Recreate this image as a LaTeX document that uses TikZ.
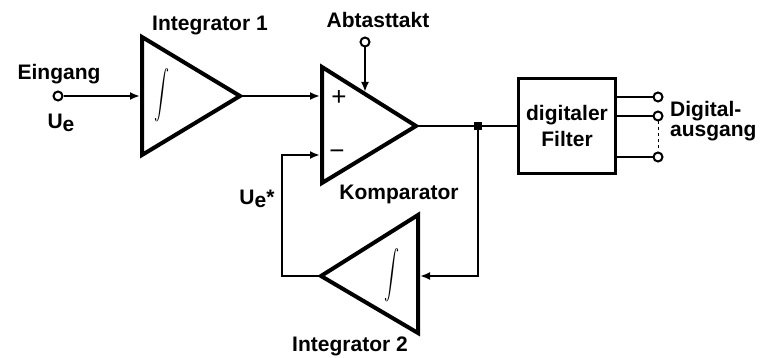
\documentclass[tikz,border=0pt]{standalone}
\usepackage{fontspec}
\setmainfont{Liberation Sans}
\usetikzlibrary{arrows.meta,calc,positioning}

\tikzset{
	amp/.style={line width=4pt, line join=miter},
	wire/.style={line width=2pt},
	port/.style={circle, draw, line width=2pt, inner sep=0pt, minimum size=9pt, fill=white},
	lbl/.style={font=\fontsize{21}{26}\selectfont\bfseries, inner sep=0pt, anchor=base},
	sign/.style={font=\fontsize{26}{26}\selectfont, inner sep=0pt},
	intsym/.style={inner sep=0pt, xscale=1.5, yscale=2.4},
}

\begin{document}
\begin{tikzpicture}[x=1pt,y=-1pt,>={Latex[length=10pt,width=8pt]}]
	\useasboundingbox (0,0) rectangle (763,358);

	% Integrator 1
	\coordinate (i1t) at (142,37);
	\coordinate (i1b) at (142,155);
	\coordinate (i1o) at (240,96);
	\coordinate (i1in) at (140,96);
	\draw[amp] (i1t) -- (i1o) -- (i1b) -- cycle;
	\node[intsym] (i1int) at (162,95) {$\displaystyle\int$};
	\node[lbl] (i1lbl) at (210,31) {Integrator 1};

	% Eingang
	\node[port] (ein) at (58,96) {};
	\node[lbl] (einlbl) at (59,80) {Eingang};
	\node[lbl] (ue) at (61,129) {U\raisebox{-3pt}{e}};
	\draw[wire,->] (ein) -- (i1in);

	% Komparator
	\coordinate (kt) at (322,67);
	\coordinate (kb) at (322,183);
	\coordinate (ko) at (416,126);
	\coordinate (kplus) at (320,96);
	\coordinate (kminus) at (320,155);
	\draw[amp] (kt) -- (ko) -- (kb) -- cycle;
	\node[sign] (plus) at (339,98) {+};
	\node[sign] (minus) at (337,155) {\char"2212};
	\node[lbl] (klbl) at (399,200) {Komparator};
	\draw[wire,->] (i1o) -- (kplus);

	% Abtasttakt
	\node[port] (abt) at (365,42) {};
	\node[lbl] (abtlbl) at (378,28) {Abtasttakt};
	\coordinate (clk) at ($(kt)!0.457!(ko)$);
	\draw[wire,->] (abt) -- ($(abt |- clk)+(0,-2)$);

	% Filter
	\node[fill, inner sep=0pt, minimum size=8pt] (jn) at (478,126) {};
	\node[draw, line width=3pt, minimum width=97pt, minimum height=95pt, align=center,
		font=\fontsize{21}{26}\selectfont\bfseries, inner sep=0pt] (filt) at (567,126) {digitaler\\Filter};
	\draw[wire] (ko) -- (jn);
	\draw[wire] (jn) -- (filt);

	\foreach \n/\y in {1/97,2/116,3/157}{
		\node[port] (out\n) at (658,\y) {};
		\draw[wire] (filt.east |- out\n) -- (out\n);
	}
	\draw[dashed, line width=1pt] (out2) -- (out3);
	\node[lbl, anchor=base west] (da1) at (670,117) {Digital-};
	\node[lbl, anchor=base west] (da2) at (670,137) {ausgang};

	% Integrator 2
	\coordinate (i2t) at (418,215);
	\coordinate (i2b) at (418,333);
	\coordinate (i2o) at (321,276);
	\coordinate (i2in) at (420,276);
	\coordinate (fb) at (478,276);
	\coordinate (fbl) at (282,276);
	\draw[amp] (i2t) -- (i2o) -- (i2b) -- cycle;
	\node[intsym] (i2int) at (392,275) {$\displaystyle\int$};
	\node[lbl] (i2lbl) at (350,351) {Integrator 2};
	\draw[wire,->] (jn) -- (fb) -- (i2in);
	\draw[wire,->] (i2o) -- (fbl) -- (fbl |- kminus) -- (kminus);
	\node[lbl] (uestar) at (257,205) {U\raisebox{-3pt}{e}*};
\end{tikzpicture}
\end{document}
